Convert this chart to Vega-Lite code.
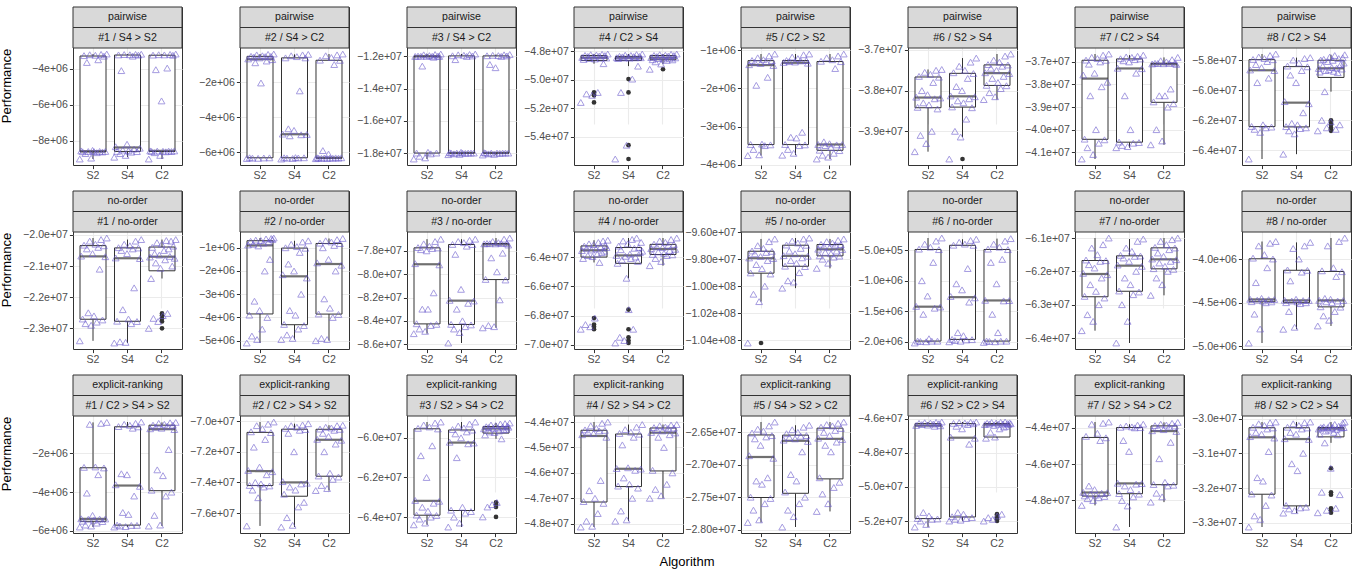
{
  "$schema": "https://vega.github.io/schema/vega-lite/v6.json",
  "padding": {"left": 1, "top": 6, "right": 2, "bottom": 0},
  "background": "white",
  "data": {"values": [
    {"g":"pairwise","k":1,"lab":"#1 / S4 > S2","a":"S2","v":[-9.0e6,-8.55e6,-8.6e6,-3.27e6,-8.7e6,-3.65e6,-8.585e6,-3.22e6,-8.95e6,-8.52e6,-8.59e6,-3.25e6,-8.65e6,-3.5e6,-8.58e6,-3.2e6,-8.61e6,-3.3e6,-8.58e6,-3.18e6]},
    {"g":"pairwise","k":1,"lab":"#1 / S4 > S2","a":"S4","v":[-8.9e6,-8.32e6,-8.58e6,-3.23e6,-8.7e6,-4.1e6,-8.5e6,-3.21e6,-8.8e6,-8.18e6,-8.55e6,-3.22e6,-8.62e6,-3.3e6,-8.45e6,-3.2e6,-8.59e6,-3.24e6,-8.4e6,-3.19e6]},
    {"g":"pairwise","k":1,"lab":"#1 / S4 > S2","a":"C2","v":[-9.0e6,-8.55e6,-8.58e6,-3.24e6,-8.65e6,-4.05e6,-8.56e6,-3.22e6,-8.8e6,-5.78e6,-8.57e6,-3.23e6,-8.6e6,-3.96e6,-8.56e6,-3.2e6,-8.585e6,-3.25e6,-8.55e6,-3.18e6]},
    {"g":"pairwise","k":2,"lab":"#2 / S4 > C2","a":"S2","v":[-6.35e6,-0.68e6,-6.31e6,-0.53e6,-6.33e6,-0.58e6,-0.9e6,-0.45e6,-6.34e6,-0.62e6,-2.05e6,-0.5e6,-6.32e6,-0.55e6,-0.8e6,-0.42e6,-6.315e6,-0.535e6,-0.72e6,-0.4e6]},
    {"g":"pairwise","k":2,"lab":"#2 / S4 > C2","a":"S4","v":[-6.38e6,-4.96e6,-6.31e6,-0.62e6,-6.33e6,-4.66e6,-5.06e6,-0.5e6,-6.35e6,-4.75e6,-6.3e6,-0.55e6,-6.32e6,-2.5e6,-5.0e6,-0.45e6,-6.31e6,-0.62e6,-4.98e6,-0.42e6]},
    {"g":"pairwise","k":2,"lab":"#2 / S4 > C2","a":"C2","v":[-6.36e6,-6.31e6,-6.33e6,-0.75e6,-6.34e6,-5.9e6,-6.32e6,-0.5e6,-6.35e6,-6.1e6,-6.32e6,-0.6e6,-6.335e6,-1.0e6,-6.315e6,-0.45e6,-6.33e6,-0.76e6,-6.31e6,-0.4e6]},
    {"g":"pairwise","k":3,"lab":"#3 / S4 > C2","a":"S2","v":[-1.837e7,-1.2e7,-1.8e7,-1.198e7,-1.82e7,-1.199e7,-1.26e7,-1.19e7,-1.83e7,-1.2e7,-1.795e7,-1.195e7,-1.805e7,-1.199e7,-1.205e7,-1.188e7,-1.8e7,-1.198e7,-1.2e7,-1.185e7]},
    {"g":"pairwise","k":3,"lab":"#3 / S4 > C2","a":"S4","v":[-1.81e7,-1.798e7,-1.8e7,-1.196e7,-1.805e7,-1.22e7,-1.8e7,-1.19e7,-1.808e7,-1.795e7,-1.8e7,-1.193e7,-1.802e7,-1.2e7,-1.8e7,-1.188e7,-1.8e7,-1.197e7,-1.8e7,-1.185e7]},
    {"g":"pairwise","k":3,"lab":"#3 / S4 > C2","a":"C2","v":[-1.812e7,-1.798e7,-1.8e7,-1.196e7,-1.805e7,-1.25e7,-1.8e7,-1.193e7,-1.808e7,-1.27e7,-1.8e7,-1.195e7,-1.802e7,-1.2e7,-1.8e7,-1.19e7,-1.8e7,-1.197e7,-1.8e7,-1.188e7]},
    {"g":"pairwise","k":4,"lab":"#4 / C2 > S4","a":"S2","v":[-5.16e7,-4.844e7,-4.858e7,-4.83e7,-5.1e7,-4.837e7,-4.852e7,-4.825e7,-5.11e7,-4.84e7,-4.855e7,-4.827e7,-5.09e7,-4.834e7,-4.85e7,-4.822e7,-4.888e7,-4.831e7,-4.848e7,-4.82e7]},
    {"g":"pairwise","k":4,"lab":"#4 / C2 > S4","a":"S4","v":[-5.557e7,-4.846e7,-4.852e7,-4.836e7,-5.09e7,-4.84e7,-4.848e7,-4.828e7,-5.46e7,-4.843e7,-4.849e7,-4.83e7,-4.996e7,-4.838e7,-4.847e7,-4.824e7,-4.905e7,-4.837e7,-4.846e7,-4.82e7]},
    {"g":"pairwise","k":4,"lab":"#4 / C2 > S4","a":"C2","v":[-4.927e7,-4.845e7,-4.86e7,-4.83e7,-4.875e7,-4.838e7,-4.852e7,-4.825e7,-4.89e7,-4.842e7,-4.855e7,-4.828e7,-4.865e7,-4.835e7,-4.85e7,-4.822e7,-4.861e7,-4.831e7,-4.847e7,-4.82e7]},
    {"g":"pairwise","k":5,"lab":"#5 / C2 > S2","a":"S2","v":[-3.76e6,-1.38e6,-3.47e6,-1.27e6,-3.6e6,-1.32e6,-1.92e6,-1.2e6,-3.74e6,-1.35e6,-3.46e6,-1.25e6,-3.5e6,-1.3e6,-1.71e6,-1.15e6,-3.48e6,-1.275e6,-1.4e6,-1.1e6]},
    {"g":"pairwise","k":5,"lab":"#5 / C2 > S2","a":"S4","v":[-3.75e6,-1.32e6,-3.47e6,-1.27e6,-3.6e6,-1.3e6,-3.28e6,-1.18e6,-3.7e6,-1.31e6,-3.3e6,-1.22e6,-3.5e6,-1.28e6,-3.15e6,-1.12e6,-3.48e6,-1.272e6,-1.34e6,-1.1e6]},
    {"g":"pairwise","k":5,"lab":"#5 / C2 > S2","a":"C2","v":[-3.85e6,-3.47e6,-3.62e6,-1.29e6,-3.75e6,-3.4e6,-3.5e6,-1.2e6,-3.8e6,-3.45e6,-3.55e6,-1.25e6,-3.7e6,-1.48e6,-3.48e6,-1.15e6,-3.63e6,-1.3e6,-3.47e6,-1.1e6]},
    {"g":"pairwise","k":6,"lab":"#6 / S2 > S4","a":"S2","v":[-3.95e7,-3.816e7,-3.841e7,-3.765e7,-3.91e7,-3.8e7,-3.83e7,-3.755e7,-3.93e7,-3.81e7,-3.835e7,-3.76e7,-3.9e7,-3.78e7,-3.82e7,-3.75e7,-3.845e7,-3.767e7,-3.818e7,-3.748e7]},
    {"g":"pairwise","k":6,"lab":"#6 / S2 > S4","a":"S4","v":[-3.968e7,-3.813e7,-3.84e7,-3.756e7,-3.9e7,-3.79e7,-3.825e7,-3.74e7,-3.914e7,-3.8e7,-3.83e7,-3.75e7,-3.87e7,-3.77e7,-3.82e7,-3.73e7,-3.842e7,-3.758e7,-3.815e7,-3.72e7]},
    {"g":"pairwise","k":6,"lab":"#6 / S2 > S4","a":"C2","v":[-3.822e7,-3.756e7,-3.787e7,-3.736e7,-3.805e7,-3.745e7,-3.77e7,-3.725e7,-3.815e7,-3.75e7,-3.78e7,-3.73e7,-3.795e7,-3.74e7,-3.765e7,-3.715e7,-3.788e7,-3.737e7,-3.758e7,-3.71e7]},
    {"g":"pairwise","k":7,"lab":"#7 / C2 > S4","a":"S2","v":[-4.13e7,-3.758e7,-4.042e7,-3.692e7,-4.08e7,-3.71e7,-3.85e7,-3.68e7,-4.11e7,-3.75e7,-4.0e7,-3.685e7,-4.06e7,-3.7e7,-3.81e7,-3.67e7,-4.045e7,-3.693e7,-3.79e7,-3.665e7]},
    {"g":"pairwise","k":7,"lab":"#7 / C2 > S4","a":"S4","v":[-4.08e7,-3.728e7,-4.055e7,-3.686e7,-4.07e7,-3.695e7,-3.85e7,-3.678e7,-4.075e7,-3.7e7,-4.0e7,-3.68e7,-4.06e7,-3.69e7,-3.75e7,-3.675e7,-4.057e7,-3.687e7,-3.73e7,-3.67e7]},
    {"g":"pairwise","k":7,"lab":"#7 / C2 > S4","a":"C2","v":[-4.067e7,-3.709e7,-3.877e7,-3.706e7,-4.0e7,-3.707e7,-3.85e7,-3.695e7,-4.05e7,-3.708e7,-3.85e7,-3.7e7,-3.9e7,-3.707e7,-3.82e7,-3.69e7,-3.885e7,-3.706e7,-3.711e7,-3.68e7]},
    {"g":"pairwise","k":8,"lab":"#8 / C2 > S4","a":"S2","v":[-6.457e7,-5.866e7,-6.241e7,-5.796e7,-6.26e7,-5.83e7,-5.95e7,-5.78e7,-6.28e7,-5.85e7,-6.23e7,-5.79e7,-6.25e7,-5.81e7,-5.92e7,-5.77e7,-6.245e7,-5.798e7,-5.87e7,-5.76e7]},
    {"g":"pairwise","k":8,"lab":"#8 / C2 > S4","a":"S4","v":[-6.425e7,-6.076e7,-6.242e7,-5.84e7,-6.27e7,-5.9e7,-6.22e7,-5.8e7,-6.29e7,-5.95e7,-6.23e7,-5.82e7,-6.255e7,-5.87e7,-6.15e7,-5.79e7,-6.25e7,-5.845e7,-6.09e7,-5.784e7]},
    {"g":"pairwise","k":8,"lab":"#8 / C2 > S4","a":"C2","v":[-6.27e7,-5.856e7,-5.88e7,-5.8e7,-6.2e7,-5.84e7,-5.795e7,-6.01e7,-5.87e7,-6.25e7,-5.81e7,-5.865e7,-5.78e7,-6.21e7,-5.85e7,-5.802e7,-5.875e7,-5.77e7,-6.26e7,-5.854e7,-5.884e7,-5.79e7,-6.23e7,-5.83e7,-5.86e7,-5.785e7,-5.82e7,-5.765e7]},
    {"g":"no-order","k":1,"lab":"#1 / no-order","a":"S2","v":[-2.34e7,-2.068e7,-2.27e7,-2.033e7,-2.285e7,-2.045e7,-2.25e7,-2.02e7,-2.29e7,-2.06e7,-2.26e7,-2.03e7,-2.28e7,-2.04e7,-2.11e7,-2.015e7,-2.273e7,-2.035e7,-2.07e7,-2.01e7]},
    {"g":"no-order","k":1,"lab":"#1 / no-order","a":"S4","v":[-2.347e7,-2.074e7,-2.277e7,-2.041e7,-2.343e7,-2.05e7,-2.24e7,-2.03e7,-2.345e7,-2.06e7,-2.27e7,-2.035e7,-2.285e7,-2.045e7,-2.17e7,-2.02e7,-2.278e7,-2.042e7,-2.076e7,-2.015e7]},
    {"g":"no-order","k":1,"lab":"#1 / no-order","a":"C2","v":[-2.30e7,-2.071e7,-2.14e7,-2.04e7,-2.268e7,-2.06e7,-2.09e7,-2.025e7,-2.278e7,-2.065e7,-2.107e7,-2.03e7,-2.259e7,-2.05e7,-2.08e7,-2.018e7,-2.252e7,-2.045e7,-2.069e7,-2.02e7,-2.1e7,-2.036e7,-2.075e7,-2.015e7]},
    {"g":"no-order","k":2,"lab":"#2 / no-order","a":"S2","v":[-5.1e6,-0.88e6,-3.9e6,-0.72e6,-4.8e6,-0.85e6,-3.3e6,-0.67e6,-4.95e6,-0.92e6,-3.7e6,-0.69e6,-4.5e6,-0.8e6,-2.0e6,-0.62e6,-4.0e6,-0.75e6,-1.5e6,-0.6e6,-0.65e6,-0.58e6]},
    {"g":"no-order","k":2,"lab":"#2 / no-order","a":"S4","v":[-4.95e6,-2.16e6,-4.3e6,-1.0e6,-4.75e6,-1.7e6,-3.7e6,-0.85e6,-4.9e6,-2.0e6,-3.9e6,-0.95e6,-4.5e6,-1.2e6,-3.0e6,-0.75e6,-4.35e6,-1.02e6,-2.3e6,-0.7e6]},
    {"g":"no-order","k":2,"lab":"#2 / no-order","a":"C2","v":[-5.0e6,-1.65e6,-3.85e6,-0.8e6,-4.9e6,-1.0e6,-3.2e6,-0.7e6,-4.95e6,-1.5e6,-3.6e6,-0.75e6,-4.0e6,-0.9e6,-2.0e6,-0.65e6,-3.87e6,-0.82e6,-1.75e6,-0.6e6]},
    {"g":"no-order","k":3,"lab":"#3 / no-order","a":"S2","v":[-8.51e7,-7.91e7,-8.425e7,-7.772e7,-8.47e7,-7.79e7,-8.3e7,-7.74e7,-8.49e7,-7.8e7,-8.3e7,-7.76e7,-8.44e7,-7.78e7,-8.16e7,-7.72e7,-8.43e7,-7.775e7,-7.92e7,-7.7e7]},
    {"g":"no-order","k":3,"lab":"#3 / no-order","a":"S4","v":[-8.59e7,-8.224e7,-8.43e7,-7.745e7,-8.47e7,-7.83e7,-8.3e7,-7.72e7,-8.5e7,-8.13e7,-8.4e7,-7.73e7,-8.45e7,-7.76e7,-8.25e7,-7.71e7,-8.435e7,-7.746e7,-8.23e7,-7.7e7]},
    {"g":"no-order","k":3,"lab":"#3 / no-order","a":"C2","v":[-8.46e7,-7.74e7,-8.045e7,-7.737e7,-8.44e7,-7.739e7,-7.86e7,-7.72e7,-8.45e7,-7.74e7,-7.98e7,-7.73e7,-8.22e7,-7.738e7,-7.82e7,-7.7e7,-8.05e7,-7.737e7,-7.75e7,-7.69e7]},
    {"g":"no-order","k":4,"lab":"#4 / no-order","a":"S2","v":[-6.893e7,-6.356e7,-6.41e7,-6.325e7,-6.861e7,-6.34e7,-6.39e7,-6.31e7,-6.876e7,-6.352e7,-6.397e7,-6.315e7,-6.817e7,-6.345e7,-6.38e7,-6.3e7,-6.437e7,-6.33e7,-6.37e7,-6.29e7,-6.36e7,-6.321e7,-6.335e7,-6.285e7]},
    {"g":"no-order","k":4,"lab":"#4 / no-order","a":"S4","v":[-6.987e7,-6.389e7,-6.443e7,-6.325e7,-6.948e7,-6.35e7,-6.42e7,-6.29e7,-6.97e7,-6.395e7,-6.545e7,-6.31e7,-6.759e7,-6.38e7,-6.41e7,-6.28e7,-6.893e7,-6.34e7,-6.4e7,-6.27e7,-6.43e7,-6.335e7,-6.37e7,-6.3e7,-6.36e7]},
    {"g":"no-order","k":4,"lab":"#4 / no-order","a":"C2","v":[-6.459e7,-6.343e7,-6.382e7,-6.312e7,-6.41e7,-6.33e7,-6.365e7,-6.29e7,-6.43e7,-6.335e7,-6.375e7,-6.3e7,-6.39e7,-6.32e7,-6.355e7,-6.28e7,-6.385e7,-6.314e7,-6.347e7,-6.27e7]},
    {"g":"no-order","k":5,"lab":"#5 / no-order","a":"S2","v":[-10.422e7,-9.791e7,-9.902e7,-9.739e7,-10.06e7,-9.76e7,-9.84e7,-9.7e7,-10.115e7,-9.78e7,-9.87e7,-9.72e7,-10.0e7,-9.75e7,-9.81e7,-9.67e7,-9.91e7,-9.742e7,-9.795e7,-9.65e7]},
    {"g":"no-order","k":5,"lab":"#5 / no-order","a":"S4","v":[-10.015e7,-9.774e7,-9.852e7,-9.695e7,-9.96e7,-9.74e7,-9.81e7,-9.665e7,-9.97e7,-9.76e7,-9.83e7,-9.68e7,-9.9e7,-9.72e7,-9.79e7,-9.65e7,-9.855e7,-9.697e7,-9.778e7,-9.643e7]},
    {"g":"no-order","k":5,"lab":"#5 / no-order","a":"C2","v":[-9.868e7,-9.726e7,-9.775e7,-9.69e7,-9.8e7,-9.705e7,-9.75e7,-9.67e7,-9.83e7,-9.715e7,-9.76e7,-9.68e7,-9.785e7,-9.695e7,-9.74e7,-9.66e7,-9.777e7,-9.692e7,-9.728e7,-9.65e7]},
    {"g":"no-order","k":6,"lab":"#6 / no-order","a":"S2","v":[-2.02e6,-1.42e6,-1.988e6,-0.482e6,-1.995e6,-1.0e6,-1.55e6,-0.4e6,-2.0e6,-1.25e6,-1.95e6,-0.45e6,-1.99e6,-0.7e6,-1.45e6,-0.35e6,-1.99e6,-0.49e6,-1.43e6,-0.3e6]},
    {"g":"no-order","k":6,"lab":"#6 / no-order","a":"S4","v":[-2.0e6,-1.258e6,-1.96e6,-0.418e6,-1.98e6,-1.05e6,-1.85e6,-0.37e6,-1.99e6,-1.15e6,-1.9e6,-0.4e6,-1.97e6,-0.8e6,-1.35e6,-0.34e6,-1.965e6,-0.42e6,-1.28e6,-0.32e6]},
    {"g":"no-order","k":6,"lab":"#6 / no-order","a":"C2","v":[-2.01e6,-1.321e6,-1.988e6,-0.482e6,-1.995e6,-0.7e6,-1.55e6,-0.4e6,-2.0e6,-1.05e6,-1.85e6,-0.45e6,-1.99e6,-0.65e6,-1.33e6,-0.35e6,-1.99e6,-0.49e6,-1.325e6,-0.31e6]},
    {"g":"no-order","k":7,"lab":"#7 / no-order","a":"S2","v":[-6.378e7,-6.206e7,-6.275e7,-6.166e7,-6.33e7,-6.18e7,-6.24e7,-6.13e7,-6.35e7,-6.19e7,-6.26e7,-6.15e7,-6.3e7,-6.17e7,-6.22e7,-6.12e7,-6.28e7,-6.168e7,-6.21e7,-6.1e7]},
    {"g":"no-order","k":7,"lab":"#7 / no-order","a":"S4","v":[-6.415e7,-6.181e7,-6.259e7,-6.152e7,-6.3e7,-6.16e7,-6.22e7,-6.13e7,-6.35e7,-6.17e7,-6.24e7,-6.14e7,-6.27e7,-6.155e7,-6.2e7,-6.11e7,-6.262e7,-6.154e7,-6.185e7,-6.103e7]},
    {"g":"no-order","k":7,"lab":"#7 / no-order","a":"C2","v":[-6.272e7,-6.163e7,-6.192e7,-6.128e7,-6.22e7,-6.145e7,-6.175e7,-6.11e7,-6.24e7,-6.155e7,-6.185e7,-6.12e7,-6.2e7,-6.135e7,-6.17e7,-6.105e7,-6.194e7,-6.13e7,-6.165e7,-6.1e7]},
    {"g":"no-order","k":8,"lab":"#8 / no-order","a":"S2","v":[-4.96e6,-4.461e6,-4.488e6,-3.99e6,-4.63e6,-4.27e6,-4.47e6,-3.85e6,-4.8e6,-4.45e6,-4.48e6,-3.95e6,-4.5e6,-4.1e6,-4.465e6,-3.82e6,-4.49e6,-4.0e6,-4.463e6,-3.8e6]},
    {"g":"no-order","k":8,"lab":"#8 / no-order","a":"S4","v":[-4.803e6,-4.472e6,-4.499e6,-4.125e6,-4.6e6,-4.25e6,-4.48e6,-3.88e6,-4.78e6,-4.46e6,-4.49e6,-4.0e6,-4.51e6,-4.15e6,-4.475e6,-3.85e6,-4.5e6,-4.13e6,-4.474e6,-3.81e6]},
    {"g":"no-order","k":8,"lab":"#8 / no-order","a":"C2","v":[-4.765e6,-4.472e6,-4.546e6,-4.135e6,-4.65e6,-4.45e6,-4.49e6,-3.85e6,-4.7e6,-4.46e6,-4.5e6,-4.1e6,-4.6e6,-4.2e6,-4.48e6,-3.8e6,-4.55e6,-4.145e6,-4.474e6,-3.76e6]},
    {"g":"explicit-ranking","k":1,"lab":"#1 / C2 > S4 > S2","a":"S2","v":[-5.8e6,-5.375e6,-5.5e6,-2.72e6,-5.7e6,-4.05e6,-5.4e6,-0.5e6,-5.75e6,-5.2e6,-5.45e6,-2.7e6,-5.6e6,-3.1e6,-5.39e6,-0.45e6,-5.52e6,-2.75e6,-5.385e6,-0.4e6]},
    {"g":"explicit-ranking","k":1,"lab":"#1 / C2 > S4 > S2","a":"S4","v":[-5.8e6,-3.62e6,-5.7e6,-0.615e6,-5.75e6,-3.05e6,-5.05e6,-0.5e6,-5.78e6,-3.1e6,-5.15e6,-0.55e6,-5.72e6,-0.7e6,-4.2e6,-0.45e6,-5.715e6,-0.63e6,-3.7e6,-0.38e6]},
    {"g":"explicit-ranking","k":1,"lab":"#1 / C2 > S4 > S2","a":"C2","v":[-5.75e6,-0.73e6,-3.9e6,-0.54e6,-5.2e6,-0.65e6,-2.85e6,-0.45e6,-5.7e6,-0.7e6,-3.15e6,-0.5e6,-4.2e6,-0.6e6,-1.8e6,-0.42e6,-4.0e6,-0.545e6,-0.77e6,-0.4e6]},
    {"g":"explicit-ranking","k":2,"lab":"#2 / C2 > S4 > S2","a":"S2","v":[-7.684e7,-7.322e7,-7.42e7,-7.07e7,-7.45e7,-7.17e7,-7.4e7,-7.03e7,-7.5e7,-7.3e7,-7.41e7,-7.05e7,-7.43e7,-7.12e7,-7.35e7,-7.02e7,-7.423e7,-7.075e7,-7.33e7,-7.006e7]},
    {"g":"explicit-ranking","k":2,"lab":"#2 / C2 > S4 > S2","a":"S4","v":[-7.691e7,-7.395e7,-7.477e7,-7.047e7,-7.63e7,-7.08e7,-7.43e7,-7.03e7,-7.68e7,-7.2e7,-7.45e7,-7.04e7,-7.56e7,-7.06e7,-7.41e7,-7.025e7,-7.53e7,-7.055e7,-7.405e7,-7.017e7]},
    {"g":"explicit-ranking","k":2,"lab":"#2 / C2 > S4 > S2","a":"C2","v":[-7.453e7,-7.119e7,-7.358e7,-7.052e7,-7.42e7,-7.08e7,-7.2e7,-7.04e7,-7.44e7,-7.1e7,-7.34e7,-7.045e7,-7.38e7,-7.06e7,-7.15e7,-7.03e7,-7.365e7,-7.054e7,-7.125e7,-7.027e7]},
    {"g":"explicit-ranking","k":3,"lab":"#3 / S2 > S4 > C2","a":"S2","v":[-6.439e7,-6.316e7,-6.39e7,-5.952e7,-6.41e7,-6.09e7,-6.35e7,-5.935e7,-6.43e7,-6.2e7,-6.37e7,-5.945e7,-6.4e7,-6.04e7,-6.33e7,-5.925e7,-6.392e7,-5.955e7,-6.32e7,-5.92e7]},
    {"g":"explicit-ranking","k":3,"lab":"#3 / S2 > S4 > C2","a":"S4","v":[-6.45e7,-6.022e7,-6.365e7,-5.958e7,-6.4e7,-5.98e7,-6.1e7,-5.94e7,-6.43e7,-6.0e7,-6.35e7,-5.95e7,-6.38e7,-5.97e7,-6.03e7,-5.93e7,-6.372e7,-5.961e7,-6.026e7,-5.92e7]},
    {"g":"explicit-ranking","k":3,"lab":"#3 / S2 > S4 > C2","a":"C2","v":[-6.399e7,-5.954e7,-5.985e7,-5.944e7,-6.349e7,-5.948e7,-5.97e7,-5.935e7,-6.337e7,-5.952e7,-5.973e7,-5.938e7,-6.326e7,-5.95e7,-5.965e7,-5.93e7,-6.005e7,-5.945e7,-5.96e7,-5.928e7,-5.957e7,-5.94e7,-5.946e7,-5.925e7]},
    {"g":"explicit-ranking","k":4,"lab":"#4 / S2 > S4 > C2","a":"S2","v":[-4.813e7,-4.45e7,-4.713e7,-4.431e7,-4.79e7,-4.44e7,-4.67e7,-4.415e7,-4.81e7,-4.445e7,-4.7e7,-4.425e7,-4.76e7,-4.435e7,-4.63e7,-4.405e7,-4.72e7,-4.433e7,-4.46e7,-4.4e7]},
    {"g":"explicit-ranking","k":4,"lab":"#4 / S2 > S4 > C2","a":"S4","v":[-4.79e7,-4.583e7,-4.652e7,-4.445e7,-4.75e7,-4.49e7,-4.62e7,-4.43e7,-4.785e7,-4.58e7,-4.645e7,-4.44e7,-4.7e7,-4.46e7,-4.59e7,-4.42e7,-4.66e7,-4.448e7,-4.585e7,-4.41e7]},
    {"g":"explicit-ranking","k":4,"lab":"#4 / S2 > S4 > C2","a":"C2","v":[-4.7e7,-4.441e7,-4.59e7,-4.422e7,-4.665e7,-4.43e7,-4.46e7,-4.415e7,-4.69e7,-4.435e7,-4.5e7,-4.42e7,-4.645e7,-4.425e7,-4.45e7,-4.412e7,-4.6e7,-4.424e7,-4.443e7,-4.41e7]},
    {"g":"explicit-ranking","k":5,"lab":"#5 / S4 > S2 > C2","a":"S2","v":[-2.789e7,-2.686e7,-2.75e7,-2.651e7,-2.77e7,-2.66e7,-2.725e7,-2.645e7,-2.785e7,-2.67e7,-2.73e7,-2.648e7,-2.76e7,-2.657e7,-2.72e7,-2.64e7,-2.752e7,-2.655e7,-2.69e7,-2.634e7]},
    {"g":"explicit-ranking","k":5,"lab":"#5 / S4 > S2 > C2","a":"S4","v":[-2.796e7,-2.662e7,-2.742e7,-2.652e7,-2.77e7,-2.658e7,-2.715e7,-2.646e7,-2.78e7,-2.66e7,-2.725e7,-2.65e7,-2.76e7,-2.656e7,-2.68e7,-2.642e7,-2.75e7,-2.655e7,-2.664e7,-2.639e7]},
    {"g":"explicit-ranking","k":5,"lab":"#5 / S4 > S2 > C2","a":"C2","v":[-2.772e7,-2.659e7,-2.72e7,-2.642e7,-2.745e7,-2.65e7,-2.67e7,-2.638e7,-2.76e7,-2.655e7,-2.68e7,-2.64e7,-2.735e7,-2.647e7,-2.665e7,-2.636e7,-2.727e7,-2.644e7,-2.661e7,-2.634e7]},
    {"g":"explicit-ranking","k":6,"lab":"#6 / S2 > C2 > S4","a":"S2","v":[-5.235e7,-4.64e7,-5.185e7,-4.628e7,-5.2e7,-4.635e7,-5.15e7,-4.624e7,-5.22e7,-4.638e7,-5.17e7,-4.626e7,-5.19e7,-4.632e7,-4.645e7,-4.622e7,-5.188e7,-4.63e7,-4.642e7,-4.62e7]},
    {"g":"explicit-ranking","k":6,"lab":"#6 / S2 > C2 > S4","a":"S4","v":[-5.2e7,-4.709e7,-5.175e7,-4.628e7,-5.19e7,-4.645e7,-5.15e7,-4.624e7,-5.195e7,-4.66e7,-5.16e7,-4.626e7,-5.185e7,-4.635e7,-4.75e7,-4.622e7,-5.18e7,-4.63e7,-4.715e7,-4.62e7]},
    {"g":"explicit-ranking","k":6,"lab":"#6 / S2 > C2 > S4","a":"C2","v":[-5.2e7,-4.635e7,-4.715e7,-4.627e7,-5.18e7,-4.632e7,-4.68e7,-4.623e7,-5.19e7,-4.64e7,-4.708e7,-4.626e7,-5.17e7,-4.633e7,-4.66e7,-4.622e7,-5.16e7,-4.631e7,-4.65e7,-4.62e7,-4.645e7,-4.629e7,-4.634e7,-4.625e7,-4.63e7]},
    {"g":"explicit-ranking","k":7,"lab":"#7 / S2 > S4 > C2","a":"S2","v":[-4.827e7,-4.755e7,-4.775e7,-4.447e7,-4.79e7,-4.72e7,-4.765e7,-4.38e7,-4.8e7,-4.74e7,-4.77e7,-4.43e7,-4.785e7,-4.47e7,-4.76e7,-4.375e7,-4.778e7,-4.455e7,-4.757e7,-4.368e7]},
    {"g":"explicit-ranking","k":7,"lab":"#7 / S2 > S4 > C2","a":"S4","v":[-4.946e7,-4.705e7,-4.762e7,-4.397e7,-4.8e7,-4.47e7,-4.72e7,-4.39e7,-4.83e7,-4.53e7,-4.74e7,-4.395e7,-4.78e7,-4.4e7,-4.71e7,-4.385e7,-4.765e7,-4.399e7,-4.707e7,-4.38e7]},
    {"g":"explicit-ranking","k":7,"lab":"#7 / S2 > S4 > C2","a":"C2","v":[-4.809e7,-4.416e7,-4.712e7,-4.388e7,-4.76e7,-4.4e7,-4.57e7,-4.38e7,-4.78e7,-4.41e7,-4.7e7,-4.385e7,-4.72e7,-4.395e7,-4.48e7,-4.375e7,-4.716e7,-4.39e7,-4.42e7,-4.37e7]},
    {"g":"explicit-ranking","k":8,"lab":"#8 / S2 > C2 > S4","a":"S2","v":[-3.312e7,-3.052e7,-3.217e7,-3.025e7,-3.28e7,-3.04e7,-3.17e7,-3.015e7,-3.29e7,-3.045e7,-3.18e7,-3.02e7,-3.25e7,-3.03e7,-3.095e7,-3.012e7,-3.22e7,-3.027e7,-3.056e7,-3.01e7]},
    {"g":"explicit-ranking","k":8,"lab":"#8 / S2 > C2 > S4","a":"S4","v":[-3.272e7,-3.058e7,-3.25e7,-3.025e7,-3.26e7,-3.04e7,-3.13e7,-3.015e7,-3.265e7,-3.045e7,-3.15e7,-3.02e7,-3.257e7,-3.03e7,-3.1e7,-3.012e7,-3.255e7,-3.027e7,-3.06e7,-3.01e7]},
    {"g":"explicit-ranking","k":8,"lab":"#8 / S2 > C2 > S4","a":"C2","v":[-3.271e7,-3.03e7,-3.045e7,-3.026e7,-3.212e7,-3.0275e7,-3.024e7,-3.07e7,-3.036e7,-3.264e7,-3.0262e7,-3.033e7,-3.02e7,-3.143e7,-3.028e7,-3.0255e7,-3.04e7,-3.017e7,-3.258e7,-3.031e7,-3.047e7,-3.022e7,-3.219e7,-3.027e7,-3.0265e7,-3.013e7,-3.026e7,-3.01e7]}
  ]},
  "transform": [
    {"flatten": ["v"]},
    {"window": [{"op": "row_number", "as": "i"}], "groupby": ["g", "k", "a"]},
    {"window": [{"op": "percent_rank", "as": "j"}], "sort": [{"field": "i", "order": "ascending"}], "groupby": ["g", "k", "a"]}
  ],
  "facet": {
    "row": {"field": "g", "type": "nominal", "sort": ["pairwise", "no-order", "explicit-ranking"],
      "header": {"title": null, "labelExpr": "'Performance\u00a0\u00a0\u00a0\u00a0\u00a0\u00a0\u00a0\u00a0\u00a0\u00a0\u00a0'", "labelAngle": -90, "labelOrient": "left", "labelFontSize": 13, "labelColor": "black", "labelPadding": 2, "labelFont": "Liberation Sans"}},
    "column": {"field": "k", "type": "ordinal",
      "header": {"labels": false, "title": "Algorithm", "titleOrient": "bottom", "titleFontSize": 13, "titleFontWeight": "normal", "titleColor": "black", "titlePadding": -4, "titleFont": "Liberation Sans"}}
  },
  "spacing": {"row": 8, "column": 0},
  "resolve": {"scale": {"y": "independent"}, "axis": {"x": "independent"}},
  "spec": {
    "width": 109,
    "height": 158,
    "layer": [
      {
        "layer": [
          {
            "mark": {"type": "boxplot", "extent": 1.5, "size": 26,
              "box": {"fill": "white", "stroke": "#333333", "strokeWidth": 1},
              "median": {"color": "#333333", "thickness": 2.2},
              "rule": {"color": "#333333", "strokeWidth": 1},
              "outliers": {"color": "#333333", "filled": true, "size": 22, "opacity": 1},
              "ticks": false},
            "encoding": {
              "x": {"field": "a", "type": "nominal", "sort": ["S2", "S4", "C2"], "scale": {"paddingInner": 0, "paddingOuter": 0.08}, "axis": {"title": null, "labelAngle": 0, "bandPosition": 0.5, "grid": true}},
              "y": {"field": "v", "type": "quantitative", "scale": {"zero": false, "nice": false, "padding": 6, "range": [158, 41]}, "axis": {"title": null, "format": "e", "labelExpr": "replace(datum.label, 'e+', 'e+0')", "tickCount": 4, "grid": true}}
            }
          },
          {
            "mark": {"type": "point", "shape": "triangle-up", "filled": false, "size": 46, "strokeWidth": 1, "color": "#6a5acd", "opacity": 0.6},
            "encoding": {
              "x": {"field": "a", "type": "nominal", "sort": ["S2", "S4", "C2"]},
              "xOffset": {"field": "j", "type": "quantitative", "scale": {"domain": [0, 1], "range": [4, 31]}},
              "y": {"field": "v", "type": "quantitative"}
            }
          }
        ]
      },
      {
        "transform": [{"aggregate": [{"op": "count", "as": "n"}], "groupby": ["g", "k", "lab"]}],
        "layer": [
          {"mark": {"type": "rect", "fill": "#d9d9d9", "stroke": "#333333", "strokeWidth": 1},
           "encoding": {"y": {"datum": 0, "type": "quantitative", "scale": {"domain": [0, 2], "range": [0, 41], "nice": false, "zero": false}, "axis": null}, "y2": {"datum": 1}}},
          {"mark": {"type": "rect", "fill": "#d9d9d9", "stroke": "#333333", "strokeWidth": 1},
           "encoding": {"y": {"datum": 1, "type": "quantitative"}, "y2": {"datum": 2}}},
          {"mark": {"type": "text", "fontSize": 10.6, "color": "#1a1a1a", "baseline": "middle", "font": "Liberation Sans"},
           "encoding": {"y": {"datum": 0.5, "type": "quantitative"}, "text": {"field": "g"}}},
          {"mark": {"type": "text", "fontSize": 10.6, "color": "#1a1a1a", "baseline": "middle", "font": "Liberation Sans"},
           "encoding": {"y": {"datum": 1.5, "type": "quantitative"}, "text": {"field": "lab"}}}
        ]
      }
    ],
    "resolve": {"scale": {"y": "independent"}}
  },
  "config": {
    "font": "Liberation Sans",
    "view": {"stroke": "#333333", "strokeWidth": 1},
    "axis": {"labelFontSize": 10.6, "labelColor": "#4d4d4d", "labelFont": "Liberation Sans", "tickColor": "#333333", "tickSize": 3.6, "tickWidth": 1, "labelPadding": 2, "domain": false, "gridColor": "#ebebeb", "gridWidth": 1.1}
  }
}
